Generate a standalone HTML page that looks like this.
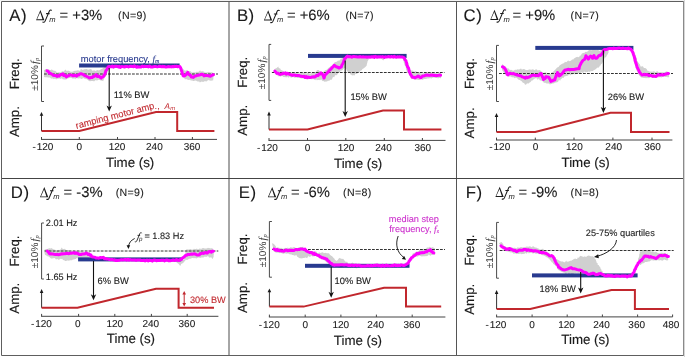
<!DOCTYPE html>
<html><head><meta charset="utf-8"><style>
html,body{margin:0;padding:0;background:#fff;}
svg{display:block;will-change:transform;}
text{text-rendering:geometricPrecision;font-family:"Liberation Sans", sans-serif;}
</style></head><body>
<svg width="685" height="357" viewBox="0 0 685 357">
<rect width="685" height="357" fill="#fff"/>

<line x1="0" y1="0.5" x2="685" y2="0.5" stroke="#f3f3f3" stroke-width="1"/>
<line x1="684.5" y1="0" x2="684.5" y2="357" stroke="#d6d6d6" stroke-width="1"/>
<path d="M683.5,1.5 H1.5 V355.5 H683.5" fill="none" stroke="#5e5e5e" stroke-width="1"/>
<line x1="683.5" y1="1" x2="683.5" y2="356" stroke="#8a8a8a" stroke-width="1"/>
<line x1="229" y1="2" x2="229" y2="355" stroke="#4c4c4c" stroke-width="1"/>
<line x1="456.5" y1="2" x2="456.5" y2="355" stroke="#555" stroke-width="1"/>
<line x1="2" y1="178.5" x2="683" y2="178.5" stroke="#444" stroke-width="1"/>

<text x="9.3" y="20.5" font-size="16.8" letter-spacing="0.5" fill="#1a1a1a" stroke="#1a1a1a" stroke-width="0.1">A)</text>
<path d="M40.40,9.90 L44.40,20.20 L36.10,20.20 Z M40.20,12.30 L37.05,19.30 L42.50,19.30 Z" fill="#1a1a1a" fill-rule="evenodd"/>
<path transform="translate(36.1,20.2)" d="M15.5,-9.5 C15.3,-10.5 14.1,-10.6 13.4,-9.5 L9.0,0.9 C8.5,2.0 7.5,2.3 6.4,1.9 M10.0,-6.6 H13.5" fill="none" stroke="#1a1a1a" stroke-width="1.05"/>
<text x="49.3" y="22.1" font-family='"Liberation Serif", serif' font-style="italic" font-size="7.6" fill="#1a1a1a">m</text>
<text x="59.5" y="19.8" font-size="14.8" fill="#1a1a1a" stroke="#1a1a1a" stroke-width="0.1">= +3%</text>
<text x="118.1" y="18.6" font-size="10.6" letter-spacing="0.35" fill="#1a1a1a" stroke="#1a1a1a" stroke-width="0.1">(N=9)</text>
<text transform="translate(19.4,73.7) rotate(-90)" text-anchor="middle" font-size="13.3" fill="#1a1a1a" stroke="#1a1a1a" stroke-width="0.15">Freq.</text>
<text transform="translate(19.4,121.6) rotate(-90)" text-anchor="middle" font-size="13.3" fill="#1a1a1a" stroke="#1a1a1a" stroke-width="0.15">Amp.</text>
<text transform="translate(37.9,90.7) rotate(-90)" font-size="10" fill="#3c3c3c">&#177;10%<tspan dx="1.2" font-family='"Liberation Serif", serif' font-style="italic" font-size="10.6">f</tspan><tspan font-family='"Liberation Serif", serif' font-style="italic" font-size="6.5" dy="1">p</tspan></text>
<polygon points="44.0,70.2 45.0,69.5 45.8,69.2 47.2,69.2 48.2,69.3 49.1,69.4 49.7,69.9 51.1,70.0 51.7,69.3 52.8,70.2 54.1,70.7 55.1,70.7 56.1,71.5 56.9,72.4 58.1,72.4 58.9,71.9 59.9,72.5 61.2,72.2 62.1,71.1 63.2,71.7 64.3,70.8 65.6,69.5 66.6,71.1 67.4,70.7 68.9,70.8 70.1,71.5 70.7,71.8 72.1,71.8 73.3,71.5 74.0,70.7 75.1,70.9 75.9,70.6 76.8,70.8 78.2,70.1 78.7,70.8 80.3,70.7 80.7,69.0 82.1,69.5 82.8,70.0 84.2,69.3 85.0,69.2 86.3,69.0 87.1,69.1 87.7,69.7 89.2,69.5 89.6,69.2 91.2,68.9 92.0,70.4 92.8,70.8 94.1,70.2 95.1,70.8 96.0,70.9 96.9,70.1 98.2,70.2 98.8,70.5 100.3,69.8 100.9,69.3 102.2,68.7 103.6,67.7 104.2,66.6 104.5,66.4 105.5,65.4 106.1,64.1 107.0,64.3 108.0,64.1 109.1,64.0 109.0,65.3 109.0,66.1 108.4,66.8 108.3,68.4 108.1,69.2 108.3,68.8 107.5,71.1 107.4,72.1 106.9,73.3 106.7,73.8 106.8,75.2 105.9,76.0 105.4,76.9 104.3,77.6 104.4,78.2 103.6,80.0 103.2,81.2 101.7,80.5 100.9,81.1 100.2,79.8 99.2,80.1 98.1,79.8 97.0,80.8 96.0,80.1 95.1,80.4 94.0,81.4 93.2,81.0 92.5,81.0 91.2,81.1 90.0,81.3 89.0,81.0 87.7,79.8 87.1,79.6 85.8,78.8 85.2,79.3 84.3,78.4 83.0,78.1 82.1,79.1 80.8,78.9 80.2,77.9 78.6,78.7 78.0,77.9 77.1,78.5 76.3,77.9 75.2,79.2 74.3,78.3 72.9,78.8 72.0,78.3 71.3,78.0 69.6,77.8 68.7,78.6 68.1,78.1 67.0,79.0 66.0,79.4 65.0,79.5 64.3,79.6 62.9,79.2 61.7,78.2 60.6,79.1 59.8,78.5 59.0,78.6 57.9,78.8 57.3,78.8 56.1,79.4 55.0,78.4 53.9,79.3 52.7,78.3 52.2,78.8 51.0,78.6 50.0,77.5 48.7,77.5 48.2,77.4 46.8,77.2 45.7,77.3 44.8,77.3 44.0,77.0" fill="#d0d0d0"/>
<polygon points="180.0,66.2 180.8,66.7 181.4,67.5 182.6,68.6 183.4,69.3 184.1,70.1 184.7,70.6 186.1,70.7 186.7,70.0 187.8,70.8 189.1,71.2 190.1,71.1 191.1,71.8 191.9,72.6 193.1,72.6 193.9,72.0 194.9,72.5 196.1,72.3 196.9,71.5 197.9,72.1 198.9,71.4 200.1,70.3 201.0,71.8 201.6,71.3 203.0,71.2 204.1,71.8 204.7,72.4 206.1,72.6 207.3,72.4 208.0,71.8 209.1,72.2 209.9,72.1 210.8,72.5 212.2,72.0 212.7,73.1 214.3,74.3 213.5,73.9 213.7,75.7 213.3,77.4 213.5,78.1 213.2,79.2 213.3,80.3 212.1,80.4 210.7,80.8 210.2,80.6 208.6,80.2 208.2,79.8 207.0,81.2 205.8,81.6 205.1,80.9 204.1,81.5 203.0,81.9 201.9,81.4 201.2,81.8 199.8,82.4 199.3,81.6 197.8,81.5 197.0,81.3 196.3,80.7 195.2,80.4 193.9,81.1 193.2,81.0 192.1,80.5 191.0,80.5 190.0,80.1 189.1,79.8 188.1,79.9 187.4,79.5 185.9,79.0 185.0,79.4 184.3,78.3 184.0,76.2 182.8,76.6 182.4,75.8 181.6,75.1 181.0,74.0" fill="#d0d0d0"/>
<path d="M44.0,46.0 H41.5 V101.5 H44.0" fill="none" stroke="#4a4a4a" stroke-width="1"/>
<line x1="44.00" y1="74.0" x2="218" y2="74.0" stroke="#333" stroke-width="1" stroke-dasharray="2.8,1.2"/>
<rect x="79.1" y="63.5" width="100.50" height="4" fill="#283a8f"/>
<polyline points="47.0,70.8 47.9,71.1 48.5,71.9 49.3,73.0 50.2,73.2 51.1,73.9 52.1,74.3 53.3,75.3 54.2,75.5 55.7,75.4 56.9,76.5 57.9,75.7 59.2,76.0 60.3,74.6 61.5,74.6 62.9,73.8 63.6,75.5 64.7,75.1 65.7,76.1 66.5,76.9 67.8,75.8 68.7,75.8 69.5,74.9 70.8,74.9 71.8,75.1 72.7,75.7 73.8,75.8 74.7,75.1 75.9,75.7 76.7,76.1 77.8,74.9 78.6,75.1 79.5,74.3 80.3,73.8 81.5,73.8 82.8,74.3 83.6,74.7 85.0,75.8 85.8,75.9 86.9,76.6 87.8,76.9 89.0,77.8 89.8,78.0 90.7,77.4 92.2,77.5 93.1,76.3 94.2,76.4 95.2,75.5 96.1,74.7 97.2,76.4 98.2,76.5 99.3,76.3 100.2,77.3 101.2,78.1 101.8,77.2 102.7,76.9 103.6,76.4 104.3,75.0 104.7,74.5 105.1,73.2 105.5,72.4 105.9,70.7 106.4,70.1 106.9,69.5 107.6,68.0 107.9,67.1 108.3,66.8 109.3,66.5 110.4,66.7 111.4,66.8 112.4,66.1 113.5,67.1 114.4,66.3 115.4,66.3 116.3,66.2 117.6,66.4 118.5,67.0 119.4,66.3 120.2,67.4 121.6,66.5 122.3,66.6 123.5,66.7 124.4,67.0 125.6,66.5 126.4,66.5 127.5,66.5 128.5,67.0 129.5,66.5 130.5,66.2 131.4,66.3 132.7,66.5 133.7,66.7 134.3,65.9 135.6,66.5 136.7,67.2 137.5,66.6 138.5,67.1 139.6,67.0 140.5,67.0 141.3,66.9 142.2,66.1 143.5,66.7 144.3,66.3 145.6,66.5 146.6,66.5 147.5,66.6 148.4,66.9 149.5,66.0 150.6,66.9 151.7,66.9 152.8,66.9 153.4,66.7 154.5,66.5 155.7,66.4 156.3,66.6 157.3,66.9 158.6,66.6 159.4,66.2 160.5,66.5 161.6,66.8 162.7,66.3 163.5,66.8 164.5,66.4 165.5,67.1 166.6,66.9 167.6,66.8 168.6,66.5 169.5,66.8 170.5,66.7 171.5,66.9 172.7,66.4 173.5,66.8 174.5,66.3 175.8,66.4 176.4,66.3 177.7,66.7 178.5,66.5 179.8,66.4 180.8,68.2 181.0,69.2 181.4,70.2 181.7,71.2 181.9,71.4 182.2,73.4 182.7,74.1 183.0,75.4 183.7,76.1 184.6,75.9 185.7,74.9 186.6,74.3 187.0,73.3 187.8,72.4 188.5,73.6 189.1,74.5 189.9,75.2 190.7,75.4 191.3,77.1 192.5,77.0 193.3,77.4 194.4,76.3 195.5,76.1 196.5,75.5 198.1,75.2 199.0,75.0 199.9,74.9 201.2,74.3 202.3,74.3 203.2,74.7 204.0,75.9 205.4,75.5 206.1,75.5 207.2,75.6 208.3,75.7 209.4,76.1 210.3,76.3 211.2,75.7 212.4,75.0 213.4,74.8" fill="none" stroke="#ff00ff" stroke-width="3" stroke-linejoin="round" stroke-linecap="round"/>
<line x1="41.5" y1="131" x2="41.5" y2="113.9" stroke="#333" stroke-width="1"/>
<path d="M39.7,115.80000000000001 L41.5,111.9 L43.3,115.80000000000001 Z" fill="#1a1a1a"/>
<polyline points="41.5,131.0 79.3,131.0 156.0,112.0 177.2,112.0 177.2,131.0 214.4,131.0" fill="none" stroke="#c1272d" stroke-width="2" stroke-linejoin="miter"/>
<line x1="41.0" y1="139.4" x2="217" y2="139.4" stroke="#444" stroke-width="1"/>
<line x1="41.5" y1="139.4" x2="41.5" y2="137.0" stroke="#444" stroke-width="1"/>
<text x="32.5" y="150.1" font-size="10" fill="#1a1a1a" stroke="#1a1a1a" stroke-width="0.1">-<tspan dx="0.9">120</tspan></text>
<line x1="79.3" y1="139.4" x2="79.3" y2="137.0" stroke="#444" stroke-width="1"/>
<text x="79.4" y="150.1" text-anchor="middle" font-size="10" fill="#1a1a1a" stroke="#1a1a1a" stroke-width="0.1">0</text>
<line x1="117.5" y1="139.4" x2="117.5" y2="137.0" stroke="#444" stroke-width="1"/>
<text x="117.0" y="150.1" text-anchor="middle" font-size="10" fill="#1a1a1a" stroke="#1a1a1a" stroke-width="0.1">120</text>
<line x1="155.0" y1="139.4" x2="155.0" y2="137.0" stroke="#444" stroke-width="1"/>
<text x="154.4" y="150.1" text-anchor="middle" font-size="10" fill="#1a1a1a" stroke="#1a1a1a" stroke-width="0.1">240</text>
<line x1="192.4" y1="139.4" x2="192.4" y2="137.0" stroke="#444" stroke-width="1"/>
<text x="192.0" y="150.1" text-anchor="middle" font-size="10" fill="#1a1a1a" stroke="#1a1a1a" stroke-width="0.1">360</text>
<text x="106" y="166.6" font-size="13.3" fill="#1a1a1a" stroke="#1a1a1a" stroke-width="0.15">Time (s)</text>
<line x1="109.2" y1="68" x2="109.2" y2="108.5" stroke="#111" stroke-width="1.1"/>
<path d="M106.5,105.5 L109.2,111.5 L111.9,105.5 L109.2,107.2 Z" fill="#111"/>
<text x="113.7" y="97.7" font-size="9.35" fill="#1a1a1a" stroke="#1a1a1a" stroke-width="0.12">11% BW</text>
<text transform="translate(76.4,128.9) rotate(-14.6)" font-size="9.35" fill="#c1272d" stroke="#c1272d" stroke-width="0.1">ramping motor amp</text>
<text x="154.6" y="109.2" font-size="9.4" fill="#c1272d">.,</text>
<text x="164.4" y="109.2" font-family='"Liberation Serif", serif' font-style="italic" font-size="8.2" fill="#c1272d">A</text>
<text x="170.3" y="110" font-family='"Liberation Serif", serif' font-style="italic" font-size="5.8" fill="#c1272d">m</text>
<text x="80.8" y="61.8" font-size="9.3" fill="#283a8f" stroke="#283a8f" stroke-width="0.1">motor frequency, <tspan font-family='"Liberation Serif", serif' font-style="italic">f</tspan><tspan font-family='"Liberation Serif", serif' font-style="italic" font-size="6" dy="1">m</tspan></text>
<text x="236.9" y="20.8" font-size="16.8" letter-spacing="0.5" fill="#1a1a1a" stroke="#1a1a1a" stroke-width="0.1">B)</text>
<path d="M268.20,10.20 L272.20,20.50 L263.90,20.50 Z M268.00,12.60 L264.85,19.60 L270.30,19.60 Z" fill="#1a1a1a" fill-rule="evenodd"/>
<path transform="translate(263.9,20.5)" d="M15.5,-9.5 C15.3,-10.5 14.1,-10.6 13.4,-9.5 L9.0,0.9 C8.5,2.0 7.5,2.3 6.4,1.9 M10.0,-6.6 H13.5" fill="none" stroke="#1a1a1a" stroke-width="1.05"/>
<text x="277.09999999999997" y="22.400000000000002" font-family='"Liberation Serif", serif' font-style="italic" font-size="7.6" fill="#1a1a1a">m</text>
<text x="286.90000000000003" y="20.1" font-size="14.8" fill="#1a1a1a" stroke="#1a1a1a" stroke-width="0.1">= +6%</text>
<text x="345.40000000000003" y="18.6" font-size="10.6" letter-spacing="0.35" fill="#1a1a1a" stroke="#1a1a1a" stroke-width="0.1">(N=7)</text>
<text transform="translate(247,72.2) rotate(-90)" text-anchor="middle" font-size="13.3" fill="#1a1a1a" stroke="#1a1a1a" stroke-width="0.15">Freq.</text>
<text transform="translate(247,120.3) rotate(-90)" text-anchor="middle" font-size="13.3" fill="#1a1a1a" stroke="#1a1a1a" stroke-width="0.15">Amp.</text>
<text transform="translate(265.4,89.2) rotate(-90)" font-size="10" fill="#3c3c3c">&#177;10%<tspan dx="1.2" font-family='"Liberation Serif", serif' font-style="italic" font-size="10.6">f</tspan><tspan font-family='"Liberation Serif", serif' font-style="italic" font-size="6.5" dy="1">p</tspan></text>
<polygon points="274.0,70.2 274.8,69.1 275.5,68.5 276.7,68.0 277.5,67.2 278.3,66.5 278.6,67.7 279.7,68.4 280.0,68.3 280.8,69.8 282.1,70.5 283.1,70.7 284.1,71.7 284.9,72.8 286.1,72.6 286.9,71.8 287.9,72.2 289.1,72.4 289.9,71.9 290.9,72.9 291.9,72.6 293.1,71.9 294.0,73.2 294.6,72.5 296.0,72.4 297.1,72.8 297.7,73.2 299.1,73.4 300.3,73.2 301.0,72.5 302.1,72.8 302.9,72.6 303.8,73.0 305.2,72.3 305.7,73.4 307.3,73.6 307.7,72.3 309.1,73.1 309.8,73.9 311.2,73.3 312.0,73.1 313.3,72.9 314.1,72.5 314.7,72.6 316.3,71.4 316.9,70.1 318.8,69.9 320.0,71.5 320.8,72.2 322.1,71.9 323.1,71.8 324.0,71.5 324.9,70.3 326.2,70.0 326.6,69.8 327.9,68.6 328.2,68.1 329.2,67.5 330.3,66.5 330.9,65.7 331.3,65.9 332.3,65.2 332.9,64.2 333.6,63.7 334.3,62.8 335.1,62.0 336.1,61.9 337.4,61.3 337.9,60.6 339.0,60.8 339.9,60.2 341.0,58.1 341.2,58.7 342.2,58.0 342.8,57.4 343.6,56.2 344.7,55.9 344.9,55.0 346.0,55.0 346.5,54.8 348.2,54.5 349.0,55.4 350.2,55.7 350.7,54.8 351.9,55.3 353.2,53.8 354.2,54.3 355.1,54.3 356.0,55.5 357.0,55.1 358.1,55.1 359.0,55.7 360.2,54.9 361.5,54.5 362.2,54.9 363.0,55.3 364.0,55.3 364.7,54.3 366.1,54.6 366.8,54.3 368.2,55.3 368.6,55.6 368.7,56.5 369.1,58.7 368.5,59.7 368.4,59.9 367.5,61.6 367.5,61.7 367.2,63.2 367.0,63.5 366.6,65.7 366.3,65.9 365.1,67.3 364.4,67.7 363.9,68.3 362.4,69.0 361.7,70.4 361.1,70.2 360.0,71.4 359.0,72.1 358.0,72.5 357.5,73.5 356.4,73.9 355.4,73.8 354.6,75.5 353.8,75.2 353.0,75.3 351.9,75.6 351.5,74.8 350.5,74.6 349.6,72.8 348.7,73.2 347.7,71.7 347.6,71.6 346.8,70.8 346.2,69.1 345.3,68.5 345.2,67.7 344.0,68.3 343.1,69.3 342.3,70.2 341.2,70.8 340.7,70.5 340.1,71.9 338.8,72.3 338.4,73.1 337.6,74.3 336.8,74.8 336.1,75.6 335.1,75.1 334.3,77.3 333.3,77.1 332.8,77.2 331.8,79.8 330.7,79.6 330.3,79.9 329.1,80.8 327.8,80.8 327.1,81.6 326.0,81.5 324.8,81.8 324.2,81.6 322.8,80.8 322.5,81.3 321.1,79.2 320.1,80.2 319.3,80.1 318.0,80.0 316.7,80.2 316.1,79.3 315.2,80.3 313.7,79.1 313.1,79.4 311.9,78.8 311.4,79.6 309.8,78.4 309.3,79.3 308.3,79.2 306.8,78.8 305.6,78.3 305.0,78.7 303.9,78.3 303.1,78.5 302.1,78.3 300.9,78.5 300.0,77.6 298.9,77.9 298.0,77.9 297.0,77.9 296.0,77.2 295.1,78.1 294.1,77.5 293.1,77.1 291.7,77.5 290.8,77.7 289.8,76.2 288.8,78.0 287.9,76.6 286.9,77.4 286.1,77.1 285.3,77.3 284.0,77.0 283.3,77.0 282.2,75.8 281.0,76.4 279.9,76.4 279.1,76.1 278.0,76.6 277.2,75.1 276.0,75.0" fill="#d0d0d0"/>
<polygon points="380.0,57.2 380.7,57.7 381.3,58.7 382.5,59.8 383.2,60.6 383.8,59.7 384.2,59.1 385.3,58.1 386.0,57.0" fill="#d0d0d0"/>
<polygon points="404.0,56.2 404.5,56.7 405.0,57.6 405.9,58.8 406.5,59.5 406.9,60.4 407.1,61.5 408.1,62.2 407.9,62.2 408.3,63.8 408.8,65.0 409.1,65.7 409.3,67.2 409.4,68.8 409.9,69.5 409.9,69.7 410.9,70.3 412.1,70.7 412.9,70.5 413.9,71.7 414.9,71.6 416.1,71.1 417.0,72.7 417.6,72.3 419.0,72.3 420.1,73.0 420.7,73.4 422.1,73.4 423.3,73.2 424.0,72.4 425.1,72.7 425.9,72.4 426.8,72.8 428.2,72.1 428.7,73.1 430.3,73.3 430.7,71.9 432.1,72.7 432.8,73.4 434.2,73.1 435.0,73.2 436.3,73.3 437.1,73.2 437.7,73.6 439.2,73.2 439.6,72.7 441.2,72.2 441.0,74.5 440.8,75.7 441.1,75.9 441.1,77.3 441.0,78.5 439.9,77.8 439.2,78.0 437.8,78.4 437.3,77.8 435.8,77.9 435.0,77.9 434.3,77.5 433.2,77.4 431.9,78.3 431.2,78.4 430.1,78.1 429.0,78.5 428.0,78.5 427.1,78.6 426.1,79.1 425.4,79.1 423.9,79.0 423.0,79.8 421.9,79.8 421.3,78.6 419.8,80.1 419.1,80.0 417.9,80.0 417.1,79.4 416.4,79.7 414.9,79.3 414.0,79.2 412.5,78.9 412.2,78.5 411.4,78.6 410.9,77.9 409.8,76.2 409.4,75.8 409.1,73.4 408.4,73.1 407.7,72.2 407.0,72.5 406.6,71.1 406.5,70.1 406.0,69.7 405.9,67.9 405.8,66.5 405.2,65.9 404.7,65.3 404.4,64.3 403.7,62.3 403.8,61.6 403.1,60.3 403.0,60.0" fill="#d0d0d0"/>
<path d="M271.2,44.4 H269.0 V100.4 H271.2" fill="none" stroke="#4a4a4a" stroke-width="1"/>
<line x1="271.90" y1="72.5" x2="444.5" y2="72.5" stroke="#333" stroke-width="1" stroke-dasharray="2.8,1.2"/>
<rect x="308.0" y="53.9" width="98.60" height="4" fill="#283a8f"/>
<polyline points="274.8,71.1 275.9,72.2 277.0,73.4 277.8,73.2 279.1,73.8 279.8,74.5 280.9,74.1 281.9,74.1 283.0,73.3 283.9,73.4 285.4,72.8 286.2,74.1 287.5,73.3 288.8,73.9 289.8,74.5 291.0,74.7 292.3,75.4 293.6,75.0 294.6,74.9 295.7,75.6 296.9,75.5 297.9,75.6 299.1,75.4 300.5,76.3 301.4,76.3 302.6,76.6 304.1,76.3 305.1,77.5 306.3,76.5 307.3,77.8 308.4,77.1 309.8,77.5 310.9,77.5 312.1,76.9 313.3,76.8 314.5,77.1 315.6,76.5 316.6,75.3 318.0,75.5 318.8,74.4 320.0,74.0 321.0,72.8 321.7,73.7 322.6,74.4 323.1,75.5 323.7,76.8 324.0,78.1 324.3,77.5 324.6,76.2 324.9,74.9 325.7,74.5 326.5,73.7 327.2,72.8 328.1,72.2 329.0,70.9 329.5,70.3 330.5,69.5 331.0,68.8 331.8,68.2 332.7,67.0 333.3,66.6 334.2,65.3 335.6,66.3 336.5,66.9 337.7,66.9 338.6,67.9 339.6,67.9 340.2,67.4 341.4,66.8 341.7,65.6 342.1,64.7 342.6,64.0 342.9,63.5 343.4,62.2 344.0,60.5 344.4,59.5 344.7,58.6 345.5,58.3 346.4,56.9 347.4,56.1 348.5,56.7 350.1,56.6 351.2,56.9 351.8,57.2 353.0,56.6 354.0,56.6 355.2,56.8 356.2,56.8 357.1,56.9 358.1,56.9 359.0,57.1 360.1,56.5 361.0,57.0 361.9,57.0 363.2,56.8 364.2,56.9 365.2,56.9 366.3,57.0 367.1,57.3 368.1,56.9 369.2,56.9 370.1,57.3 371.1,56.7 372.2,57.1 373.2,56.6 374.2,57.5 375.2,56.3 375.9,56.6 377.0,57.2 378.4,56.8 379.1,56.9 380.2,56.7 381.4,56.9 382.5,56.6 383.3,56.9 384.3,57.4 385.3,56.8 386.3,56.9 387.2,57.0 388.2,56.5 389.3,56.8 390.3,57.1 391.2,56.6 392.3,56.8 393.4,57.2 394.3,56.3 395.4,57.1 396.4,57.3 397.4,56.7 398.5,56.9 399.4,56.8 400.5,57.0 401.2,57.1 402.7,56.9 403.3,57.6 404.1,57.7 405.0,59.7 405.6,60.3 405.9,60.7 406.3,62.0 406.8,63.4 406.7,64.2 407.1,65.5 407.4,66.0 407.6,67.0 408.4,67.8 408.7,68.8 408.9,69.6 409.1,70.7 409.5,72.0 409.9,72.9 410.4,74.2 411.1,75.2 411.6,75.8 412.2,77.3 413.5,77.2 415.1,78.0 416.0,77.2 416.9,76.9 417.9,76.0 418.9,76.4 419.9,77.3 421.1,77.8 421.7,76.8 422.5,76.1 423.6,75.9 424.7,75.7 425.9,75.1 427.0,75.3 428.1,75.1 429.4,75.4 430.4,75.1 431.6,75.3 432.4,74.9 433.5,75.4 435.0,75.3 436.2,75.7 437.3,75.4 438.7,75.3 439.5,75.1 440.6,75.3" fill="none" stroke="#ff00ff" stroke-width="3" stroke-linejoin="round" stroke-linecap="round"/>
<line x1="269.0" y1="129.5" x2="269.0" y2="113.5" stroke="#333" stroke-width="1"/>
<path d="M267.2,115.4 L269.0,111.5 L270.8,115.4 Z" fill="#1a1a1a"/>
<polyline points="269.0,129.5 307.5,129.5 383.0,110.6 404.0,110.6 404.0,129.5 441.4,129.5" fill="none" stroke="#c1272d" stroke-width="2" stroke-linejoin="miter"/>
<line x1="268.5" y1="140.4" x2="445.5" y2="140.4" stroke="#444" stroke-width="1"/>
<line x1="269.0" y1="140.4" x2="269.0" y2="138.0" stroke="#444" stroke-width="1"/>
<text x="257.0" y="150.8" font-size="10" fill="#1a1a1a" stroke="#1a1a1a" stroke-width="0.1">-<tspan dx="0.9">120</tspan></text>
<line x1="307.5" y1="140.4" x2="307.5" y2="138.0" stroke="#444" stroke-width="1"/>
<text x="307.6" y="150.8" text-anchor="middle" font-size="10" fill="#1a1a1a" stroke="#1a1a1a" stroke-width="0.1">0</text>
<line x1="345.8" y1="140.4" x2="345.8" y2="138.0" stroke="#444" stroke-width="1"/>
<text x="346.1" y="150.8" text-anchor="middle" font-size="10" fill="#1a1a1a" stroke="#1a1a1a" stroke-width="0.1">120</text>
<line x1="384.3" y1="140.4" x2="384.3" y2="138.0" stroke="#444" stroke-width="1"/>
<text x="383.6" y="150.8" text-anchor="middle" font-size="10" fill="#1a1a1a" stroke="#1a1a1a" stroke-width="0.1">240</text>
<line x1="422.4" y1="140.4" x2="422.4" y2="138.0" stroke="#444" stroke-width="1"/>
<text x="422.8" y="150.8" text-anchor="middle" font-size="10" fill="#1a1a1a" stroke="#1a1a1a" stroke-width="0.1">360</text>
<text x="334" y="167.6" font-size="13.3" fill="#1a1a1a" stroke="#1a1a1a" stroke-width="0.15">Time (s)</text>
<line x1="345.2" y1="60.5" x2="345.2" y2="114" stroke="#111" stroke-width="1.1"/>
<path d="M342.5,111 L345.2,117 L347.9,111 L345.2,112.7 Z" fill="#111"/>
<text x="350.4" y="99.7" font-size="9.35" fill="#1a1a1a" stroke="#1a1a1a" stroke-width="0.12">15% BW</text>
<text x="463.6" y="20.900000000000002" font-size="16.8" letter-spacing="0.5" fill="#1a1a1a" stroke="#1a1a1a" stroke-width="0.1">C)</text>
<path d="M494.50,9.70 L498.50,20.00 L490.20,20.00 Z M494.30,12.10 L491.15,19.10 L496.60,19.10 Z" fill="#1a1a1a" fill-rule="evenodd"/>
<path transform="translate(490.2,20.0)" d="M15.5,-9.5 C15.3,-10.5 14.1,-10.6 13.4,-9.5 L9.0,0.9 C8.5,2.0 7.5,2.3 6.4,1.9 M10.0,-6.6 H13.5" fill="none" stroke="#1a1a1a" stroke-width="1.05"/>
<text x="503.4" y="21.900000000000002" font-family='"Liberation Serif", serif' font-style="italic" font-size="7.6" fill="#1a1a1a">m</text>
<text x="512.5" y="19.6" font-size="14.8" fill="#1a1a1a" stroke="#1a1a1a" stroke-width="0.1">= +9%</text>
<text x="570.5" y="18.6" font-size="10.6" letter-spacing="0.35" fill="#1a1a1a" stroke="#1a1a1a" stroke-width="0.1">(N=7)</text>
<text transform="translate(474.2,73.5) rotate(-90)" text-anchor="middle" font-size="13.3" fill="#1a1a1a" stroke="#1a1a1a" stroke-width="0.15">Freq.</text>
<text transform="translate(474.2,122.9) rotate(-90)" text-anchor="middle" font-size="13.3" fill="#1a1a1a" stroke="#1a1a1a" stroke-width="0.15">Amp.</text>
<text transform="translate(492.9,90.2) rotate(-90)" font-size="10" fill="#3c3c3c">&#177;10%<tspan dx="1.2" font-family='"Liberation Serif", serif' font-style="italic" font-size="10.6">f</tspan><tspan font-family='"Liberation Serif", serif' font-style="italic" font-size="6.5" dy="1">p</tspan></text>
<polygon points="502.0,64.2 502.8,64.5 503.4,65.1 504.6,66.0 505.4,66.5 506.1,67.1 506.5,68.0 507.7,68.4 508.1,68.0 509.0,69.2 510.1,70.0 511.1,69.7 512.1,70.2 512.9,70.8 514.1,70.5 514.9,69.7 515.9,69.8 517.1,69.7 517.9,69.0 518.9,69.7 519.9,69.1 521.1,68.4 522.0,69.8 522.6,69.2 524.0,69.0 525.1,69.5 525.7,70.0 527.1,70.1 528.3,70.0 529.0,69.3 530.1,69.7 530.9,69.4 531.8,69.8 533.2,69.1 533.7,70.1 535.3,70.3 535.7,68.9 537.1,69.7 537.8,70.4 539.2,70.1 540.0,70.2 541.3,71.3 542.1,72.2 542.7,72.8 544.2,72.7 544.6,72.5 546.2,72.2 547.0,73.7 547.8,74.2 549.1,73.7 550.1,74.3 550.9,73.8 551.5,72.5 552.7,72.0 553.2,71.8 554.4,70.5 554.8,69.9 555.7,69.2 556.7,68.1 557.4,67.3 557.7,67.4 558.8,66.8 559.3,65.8 560.0,65.3 561.0,64.5 562.1,63.8 563.1,63.5 564.4,62.7 564.9,61.8 566.0,62.2 566.9,61.8 568.3,60.2 568.8,61.3 570.1,61.1 570.9,60.7 572.1,59.6 573.4,59.4 573.9,58.6 575.0,58.0 575.5,57.4 577.2,56.7 578.0,57.2 579.2,57.1 579.7,55.8 580.8,55.6 581.9,53.5 582.7,53.3 583.5,52.7 584.2,53.2 585.0,52.1 586.1,51.7 587.0,51.9 588.2,50.7 589.5,49.9 590.2,49.9 591.0,50.3 592.0,50.3 592.7,49.3 594.1,49.6 594.8,49.3 596.2,50.3 597.3,49.6 598.0,49.5 599.1,50.7 599.8,50.7 601.2,49.7 601.6,50.1 603.0,49.0 604.1,49.2 605.3,48.3 606.2,49.2 607.3,48.2 607.9,48.5 608.3,49.1 608.8,49.9 608.3,50.8 608.7,52.4 608.5,52.5 607.8,54.0 607.2,55.0 606.6,55.7 606.3,56.7 605.4,57.4 604.7,57.5 604.1,59.5 603.8,60.0 603.4,60.8 602.8,61.8 602.6,62.6 601.8,63.9 601.1,63.7 600.5,65.6 599.7,65.7 599.3,67.0 598.3,67.7 597.5,67.5 596.4,68.4 596.0,69.1 594.8,69.7 593.7,70.3 592.8,71.0 591.6,71.3 590.9,70.7 590.1,71.9 588.6,71.6 588.1,71.8 587.1,72.3 586.1,72.1 585.2,72.3 584.1,71.3 583.2,73.0 581.9,72.4 581.3,72.0 580.1,74.1 578.8,73.5 578.3,73.3 577.1,74.0 575.8,73.8 575.1,74.4 574.0,74.1 572.8,74.2 572.2,74.6 570.8,74.4 570.5,75.5 569.1,74.0 568.1,75.6 567.3,75.8 566.0,76.0 564.7,76.5 564.2,76.4 563.6,78.1 562.2,77.7 561.7,78.7 560.8,78.9 560.4,80.5 558.8,80.0 558.3,81.6 557.3,82.2 555.8,82.5 554.6,82.7 554.0,83.4 552.9,83.3 552.1,83.8 551.1,83.9 549.9,84.4 549.0,83.4 547.9,83.6 547.0,83.5 546.0,83.3 545.0,82.4 544.1,82.9 543.1,81.7 542.1,80.8 540.7,80.6 539.8,80.3 538.8,78.4 537.8,79.9 536.9,78.2 535.9,78.6 535.1,78.1 534.4,79.0 533.3,79.6 532.8,80.4 531.9,80.2 530.8,81.7 529.9,82.5 529.1,82.8 528.0,83.9 527.2,83.1 526.0,84.8 524.9,84.4 524.3,83.3 523.1,82.8 522.6,82.5 521.8,81.3 521.0,80.9 520.0,80.0 519.0,79.9 517.8,78.9 517.0,78.1 515.9,77.5 514.9,78.3 514.1,77.8 513.0,77.0 512.3,77.6 511.2,76.8 510.0,76.2 509.1,76.8 507.7,75.8 507.1,74.4 505.7,74.1 504.9,73.4 504.4,73.3 503.9,72.7 503.5,72.1 502.4,70.6 502.0,70.0" fill="#d0d0d0"/>
<polygon points="631.0,48.2 631.6,48.7 632.0,49.5 633.0,50.6 633.6,51.3 634.1,52.1 634.1,53.4 634.9,54.2 634.9,54.2 635.4,55.8 636.1,57.0 636.5,57.7 636.9,59.2 637.1,60.8 637.7,61.5 637.9,61.7 638.6,63.0 639.5,64.1 639.9,64.6 640.6,66.5 641.6,66.6 642.9,66.3 643.9,68.1 644.6,67.9 645.8,68.3 646.8,69.3 647.2,70.4 648.5,71.1 649.4,71.5 650.0,71.4 651.1,71.7 651.9,71.4 652.8,71.8 654.2,71.1 654.7,72.1 656.3,72.3 656.7,70.9 658.1,71.7 658.8,72.4 660.2,72.1 661.0,72.2 662.3,72.3 663.1,72.2 663.7,72.6 665.2,72.2 665.6,71.7 667.2,71.2 668.0,72.5 668.8,72.7 669.1,72.9 669.1,74.3 669.0,75.5 668.9,75.8 669.2,77.0 667.8,77.4 667.3,76.8 665.8,76.9 665.0,76.9 664.3,76.5 663.2,76.4 661.9,77.3 661.2,77.4 660.1,77.1 659.0,77.4 658.0,77.3 657.1,77.3 656.1,77.7 655.4,77.6 653.9,77.4 653.0,78.1 651.9,78.0 651.3,76.7 649.8,78.1 649.1,78.1 647.9,78.3 647.1,77.8 646.4,78.2 644.9,78.0 644.0,78.0 642.5,77.8 642.2,77.5 641.2,77.6 640.6,77.1 639.3,75.4 638.7,75.1 638.2,72.8 637.9,72.3 637.5,71.3 637.0,71.5 636.6,70.1 636.5,69.1 636.0,68.7 635.9,66.9 635.8,65.5 635.2,64.9 634.7,64.3 634.4,63.3 634.0,62.0" fill="#d0d0d0"/>
<path d="M498.9,45.4 H496.5 V101.5 H498.9" fill="none" stroke="#4a4a4a" stroke-width="1"/>
<line x1="499.00" y1="73.5" x2="673" y2="73.5" stroke="#333" stroke-width="1" stroke-dasharray="2.8,1.2"/>
<rect x="535.3" y="45.9" width="98.10" height="4" fill="#283a8f"/>
<polyline points="502.5,66.9 503.3,67.2 504.2,67.8 504.8,68.6 505.8,70.3 506.2,71.2 506.5,72.1 507.0,73.2 507.0,74.3 507.8,74.9 508.9,73.8 509.9,73.3 511.1,73.5 512.5,73.7 513.5,73.6 514.8,74.2 515.9,74.5 516.8,75.0 518.4,75.3 519.3,75.7 520.3,75.7 521.3,76.2 522.3,76.9 523.6,77.3 524.2,77.5 525.3,78.2 526.3,77.0 527.5,77.7 528.8,77.2 529.9,76.6 531.0,76.0 531.7,75.4 533.0,75.3 534.5,75.2 535.5,75.7 536.6,75.3 537.7,75.6 538.4,75.7 539.4,74.5 540.2,73.6 541.2,73.4 541.5,73.8 541.6,75.2 542.3,76.4 542.6,77.2 543.1,78.1 543.5,79.5 544.2,78.7 545.1,78.6 545.8,76.7 546.2,77.3 547.5,76.9 548.9,77.4 549.7,79.0 550.2,79.6 550.9,81.4 552.3,80.9 553.5,80.1 554.8,80.0 555.1,78.6 555.5,77.3 556.1,76.4 556.1,75.7 556.8,74.2 557.3,73.5 557.5,72.5 558.4,73.9 558.8,75.0 559.2,75.9 560.3,75.4 561.1,74.3 561.9,74.0 562.5,73.1 563.6,71.7 564.1,70.8 565.2,69.9 566.4,69.9 567.6,69.5 568.6,69.3 569.8,69.9 571.1,69.5 572.3,69.5 573.6,69.6 574.9,69.3 576.1,69.0 577.5,68.7 578.7,68.7 579.1,68.7 579.4,66.8 579.8,65.7 580.3,64.7 580.9,63.6 581.1,62.8 581.7,62.2 582.4,61.1 583.4,60.0 584.5,59.5 585.1,58.0 585.6,56.7 585.9,55.7 586.5,56.4 586.9,57.6 587.5,58.0 588.3,59.1 588.8,58.7 589.1,57.9 589.7,56.8 590.5,56.1 591.1,56.3 591.8,56.7 592.6,58.3 593.2,57.0 594.0,55.5 594.7,57.6 595.4,58.2 596.2,58.2 597.0,58.0 597.8,56.8 598.3,56.2 599.3,55.3 600.5,55.4 601.4,54.5 602.0,53.5 602.7,53.5 603.2,51.6 603.6,50.3 604.4,49.4 605.4,49.4 606.5,49.4 607.3,49.2 608.7,48.6 609.6,48.4 610.6,48.5 611.6,48.4 612.8,48.7 613.8,48.1 614.9,48.6 615.9,48.5 616.7,48.6 617.8,48.2 618.7,48.0 619.8,48.1 620.9,48.4 621.9,48.3 623.1,48.1 624.2,48.4 625.2,48.6 626.0,48.6 627.3,48.7 628.5,47.9 629.2,48.7 630.5,49.0 631.0,49.4 631.5,50.2 632.0,50.8 632.6,52.0 633.1,53.0 633.5,54.5 633.8,55.1 634.1,56.0 634.3,56.8 634.7,58.4 635.0,59.1 635.1,60.7 635.5,61.8 635.9,63.0 636.0,63.2 636.5,65.0 636.8,66.0 637.1,67.3 637.5,67.7 638.0,69.1 638.4,69.7 638.9,70.5 639.4,72.4 640.0,72.7 640.7,73.6 641.3,74.1 641.9,74.9 643.4,74.7 644.5,74.3 645.1,74.9 646.6,74.5 647.6,74.8 648.6,75.5 649.8,75.4 651.0,75.5 652.5,76.3 653.3,76.0 654.6,76.3 656.1,76.4 656.9,75.6 658.1,74.6 659.3,75.0 660.6,74.9 661.6,74.6 662.9,75.1 663.6,74.8 664.9,74.4 666.1,74.0 667.3,73.6 668.4,73.4" fill="none" stroke="#ff00ff" stroke-width="3" stroke-linejoin="round" stroke-linecap="round"/>
<line x1="496.5" y1="131.9" x2="496.5" y2="115" stroke="#333" stroke-width="1"/>
<path d="M494.7,116.9 L496.5,113 L498.3,116.9 Z" fill="#1a1a1a"/>
<polyline points="496.5,131.9 535.2,131.9 610.5,112.8 631.0,112.8 631.0,131.9 669.5,131.9" fill="none" stroke="#c1272d" stroke-width="2" stroke-linejoin="miter"/>
<line x1="496.0" y1="140.0" x2="672.4" y2="140.0" stroke="#444" stroke-width="1"/>
<line x1="496.5" y1="140.0" x2="496.5" y2="137.6" stroke="#444" stroke-width="1"/>
<text x="489.3" y="149.9" font-size="10" fill="#1a1a1a" stroke="#1a1a1a" stroke-width="0.1">-<tspan dx="0.9">120</tspan></text>
<line x1="535.3" y1="140.0" x2="535.3" y2="137.6" stroke="#444" stroke-width="1"/>
<text x="535.5" y="149.9" text-anchor="middle" font-size="10" fill="#1a1a1a" stroke="#1a1a1a" stroke-width="0.1">0</text>
<line x1="574.0" y1="140.0" x2="574.0" y2="137.6" stroke="#444" stroke-width="1"/>
<text x="574.4" y="149.9" text-anchor="middle" font-size="10" fill="#1a1a1a" stroke="#1a1a1a" stroke-width="0.1">120</text>
<line x1="612.9" y1="140.0" x2="612.9" y2="137.6" stroke="#444" stroke-width="1"/>
<text x="613.7" y="149.9" text-anchor="middle" font-size="10" fill="#1a1a1a" stroke="#1a1a1a" stroke-width="0.1">240</text>
<line x1="652.0" y1="140.0" x2="652.0" y2="137.6" stroke="#444" stroke-width="1"/>
<text x="652.5" y="149.9" text-anchor="middle" font-size="10" fill="#1a1a1a" stroke="#1a1a1a" stroke-width="0.1">360</text>
<text x="561.5" y="166.6" font-size="13.3" fill="#1a1a1a" stroke="#1a1a1a" stroke-width="0.15">Time (s)</text>
<line x1="603.4" y1="50.5" x2="603.4" y2="109.9" stroke="#111" stroke-width="1.1"/>
<path d="M600.6999999999999,106.9 L603.4,112.9 L606.1,106.9 L603.4,108.60000000000001 Z" fill="#111"/>
<text x="607.8" y="100.1" font-size="9.35" fill="#1a1a1a" stroke="#1a1a1a" stroke-width="0.12">26% BW</text>
<text x="10.8" y="197.6" font-size="16.8" letter-spacing="0.5" fill="#1a1a1a" stroke="#1a1a1a" stroke-width="0.1">D)</text>
<path d="M44.30,187.00 L48.30,197.30 L40.00,197.30 Z M44.10,189.40 L40.95,196.40 L46.40,196.40 Z" fill="#1a1a1a" fill-rule="evenodd"/>
<path transform="translate(40,197.29999999999998)" d="M15.5,-9.5 C15.3,-10.5 14.1,-10.6 13.4,-9.5 L9.0,0.9 C8.5,2.0 7.5,2.3 6.4,1.9 M10.0,-6.6 H13.5" fill="none" stroke="#1a1a1a" stroke-width="1.05"/>
<text x="53.2" y="199.2" font-family='"Liberation Serif", serif' font-style="italic" font-size="7.6" fill="#1a1a1a">m</text>
<text x="63.599999999999994" y="196.9" font-size="14.8" fill="#1a1a1a" stroke="#1a1a1a" stroke-width="0.1">= -3%</text>
<text x="115.7" y="196" font-size="10.6" letter-spacing="0.35" fill="#1a1a1a" stroke="#1a1a1a" stroke-width="0.1">(N=9)</text>
<text transform="translate(19.3,251) rotate(-90)" text-anchor="middle" font-size="13.3" fill="#1a1a1a" stroke="#1a1a1a" stroke-width="0.15">Freq.</text>
<text transform="translate(19.3,298.2) rotate(-90)" text-anchor="middle" font-size="13.3" fill="#1a1a1a" stroke="#1a1a1a" stroke-width="0.15">Amp.</text>
<text transform="translate(38.0,268.2) rotate(-90)" font-size="10" fill="#3c3c3c">&#177;10%<tspan dx="1.2" font-family='"Liberation Serif", serif' font-style="italic" font-size="10.6">f</tspan><tspan font-family='"Liberation Serif", serif' font-style="italic" font-size="6.5" dy="1">p</tspan></text>
<polygon points="44.0,250.2 44.9,249.5 45.8,249.2 47.2,249.1 48.1,248.7 49.0,248.3 49.6,248.3 51.0,248.5 51.6,248.0 52.8,248.9 54.0,249.6 55.1,249.7 56.1,250.2 56.9,250.8 58.1,250.5 58.9,249.7 59.9,250.0 61.0,249.1 61.6,247.6 62.8,249.0 63.9,249.1 65.1,248.7 66.0,250.3 66.6,249.9 68.0,250.0 69.1,250.6 69.7,251.4 71.1,251.5 72.3,251.4 73.0,250.7 74.1,251.1 74.9,250.9 75.8,251.4 77.2,250.8 77.7,251.9 79.3,252.2 79.7,250.9 81.1,251.7 81.8,252.4 83.2,252.1 84.0,252.2 85.3,252.3 86.1,252.2 86.7,252.6 88.2,252.2 88.4,252.3 89.8,252.4 90.4,254.3 91.0,255.1 92.1,254.9 92.8,256.0 93.5,257.0 94.1,257.1 95.2,258.0 93.8,258.4 93.3,257.8 91.8,257.9 91.0,257.9 90.3,257.5 89.2,257.4 87.9,258.3 87.2,258.4 86.1,258.1 85.0,258.3 84.0,258.2 83.1,258.2 82.1,258.6 81.4,258.5 79.9,258.3 79.0,259.0 77.9,258.9 77.3,257.6 75.8,259.0 75.1,259.1 73.8,259.6 72.8,259.4 72.1,260.2 70.4,260.3 69.4,260.6 67.8,260.8 67.4,260.3 66.2,261.1 65.3,261.1 63.8,260.1 63.1,260.3 62.3,258.7 61.2,259.0 60.1,258.8 59.0,259.9 58.0,259.3 57.1,259.1 56.0,259.6 55.2,258.6 54.5,258.1 53.2,258.3 52.0,258.6 51.0,258.4 49.7,257.3 49.1,257.0 47.8,256.1 47.2,256.5 46.3,255.2 45.0,255.0" fill="#d0d0d0"/>
<polygon points="175.0,261.2 175.8,261.5 176.4,262.2 177.6,263.2 178.4,263.7 179.1,264.4 179.5,265.3 180.7,265.8 181.1,263.9 182.1,263.6 183.2,262.9 184.1,261.7 184.7,261.2 185.2,260.8 186.0,259.0" fill="#d0d0d0"/>
<polygon points="184.0,257.2 184.2,255.9 184.4,254.9 185.1,254.2 185.3,253.1 185.5,252.1 185.4,251.4 186.1,250.2 186.7,249.0 187.8,249.5 189.1,249.5 190.1,249.0 191.1,249.3 191.9,249.8 193.1,249.5 193.9,248.7 194.9,249.0 196.1,249.1 196.9,248.6 197.9,249.5 198.9,249.1 200.1,248.3 201.0,249.4 201.6,248.5 203.0,248.1 204.1,248.3 204.7,248.5 206.1,248.4 207.3,248.3 208.0,247.7 209.1,248.2 209.9,248.0 210.8,248.5 212.2,247.9 212.7,249.1 213.6,250.3 213.3,249.9 214.1,251.7 213.7,253.4 213.9,254.1 213.6,255.2 213.7,256.3 213.4,257.2 212.9,258.6 213.2,259.2 211.6,258.1 211.2,257.0 210.0,257.7 208.8,257.3 208.1,255.9 207.1,256.5 206.0,257.0 204.9,256.6 204.2,257.0 202.8,257.7 202.3,257.3 200.8,257.7 200.0,257.9 199.3,257.5 198.2,257.4 196.9,258.3 196.2,258.4 195.1,258.1 194.0,258.3 193.0,258.1 192.1,258.0 191.1,258.6 190.4,258.8 188.9,258.8 188.0,259.7 186.9,259.8 186.0,260.0" fill="#d0d0d0"/>
<path d="M43.9,223.0 H41.6 V279.0 H43.9" fill="none" stroke="#4a4a4a" stroke-width="1"/>
<line x1="44.70" y1="251.0" x2="218.3" y2="251.0" stroke="#333" stroke-width="1" stroke-dasharray="2.8,1.2"/>
<rect x="78.1" y="257.4" width="103.10" height="4" fill="#283a8f"/>
<polyline points="47.3,251.1 48.2,251.8 49.2,253.4 49.8,253.9 51.0,253.7 52.1,254.0 52.8,254.0 54.1,254.3 55.1,254.4 56.2,254.6 57.2,254.3 58.5,254.7 59.4,254.5 60.4,254.2 62.0,253.7 62.7,253.9 63.8,253.8 65.0,253.7 66.2,253.6 67.2,253.2 68.4,253.7 69.4,253.5 70.5,253.1 71.6,253.2 72.8,253.1 73.9,252.7 75.1,253.4 75.9,252.8 77.1,253.4 77.9,253.5 79.2,254.5 80.2,254.5 81.4,254.4 82.4,253.9 83.8,254.0 85.0,253.8 85.9,253.0 87.1,253.4 88.1,254.5 89.2,254.0 90.2,255.3 91.0,255.1 91.7,256.7 92.5,256.9 93.6,257.1 94.9,257.3 96.0,257.9 97.4,257.9 98.3,258.2 99.2,258.1 100.2,257.5 101.1,257.7 102.5,257.6 103.3,257.3 104.5,258.8 105.7,258.6 106.6,259.1 107.8,259.1 109.0,259.4 109.7,259.5 110.9,259.7 112.2,259.4 113.3,260.1 114.4,259.8 115.5,260.5 116.4,260.2 117.5,260.5 118.7,260.3 119.8,260.2 120.8,259.8 121.7,259.8 122.6,260.0 123.9,259.8 125.1,259.6 125.8,259.6 126.7,260.2 127.8,259.2 128.9,260.2 130.1,259.6 131.1,259.9 132.0,260.0 132.9,259.9 134.2,260.1 135.0,259.9 136.1,260.4 137.0,260.1 138.0,260.0 139.0,259.9 140.2,260.0 140.9,260.5 141.9,260.4 142.9,260.4 144.3,260.3 145.0,260.9 146.0,260.4 147.0,260.1 148.0,260.9 149.1,260.2 150.1,260.5 151.4,260.5 152.3,261.1 153.3,260.3 154.3,259.9 155.3,260.2 156.4,260.8 157.2,260.4 158.4,260.6 159.5,260.6 160.5,260.5 161.4,260.3 162.3,260.3 163.5,260.2 164.4,260.9 165.4,260.4 166.2,260.0 167.3,259.9 168.5,260.7 169.6,260.6 170.1,260.8 171.5,260.4 172.3,260.3 173.2,259.9 174.7,260.5 175.7,260.1 176.5,259.5 177.6,260.1 178.7,260.5 179.5,259.8 180.7,259.7 181.5,259.4 182.0,258.2 183.2,257.5 184.2,257.1 184.7,256.2 185.7,255.3 186.6,255.3 187.5,254.5 188.5,254.4 189.4,254.6 190.6,254.2 191.3,254.1 192.4,254.2 193.4,253.9 194.7,253.7 195.4,254.2 196.4,254.7 197.3,255.1 198.5,255.1 199.3,254.9 200.3,253.4 201.2,253.6 202.4,253.1 203.5,253.4 205.0,252.4 206.0,252.9 207.4,252.9 208.1,252.1 209.0,251.6 210.1,251.7 211.3,252.2 212.1,251.3 213.4,251.2" fill="none" stroke="#ff00ff" stroke-width="3" stroke-linejoin="round" stroke-linecap="round"/>
<line x1="41.6" y1="307.8" x2="41.6" y2="291.1" stroke="#333" stroke-width="1"/>
<path d="M39.800000000000004,293.0 L41.6,289.1 L43.4,293.0 Z" fill="#1a1a1a"/>
<polyline points="41.6,307.8 77.5,307.8 156.0,288.8 178.6,288.8 178.6,307.8 214.0,307.8" fill="none" stroke="#c1272d" stroke-width="2" stroke-linejoin="miter"/>
<line x1="41.1" y1="316.3" x2="218.4" y2="316.3" stroke="#444" stroke-width="1"/>
<line x1="41.6" y1="316.3" x2="41.6" y2="313.90000000000003" stroke="#444" stroke-width="1"/>
<text x="30.900000000000002" y="327.2" font-size="10" fill="#1a1a1a" stroke="#1a1a1a" stroke-width="0.1">-<tspan dx="0.9">120</tspan></text>
<line x1="78.6" y1="316.3" x2="78.6" y2="313.90000000000003" stroke="#444" stroke-width="1"/>
<text x="77.8" y="327.2" text-anchor="middle" font-size="10" fill="#1a1a1a" stroke="#1a1a1a" stroke-width="0.1">0</text>
<line x1="114.8" y1="316.3" x2="114.8" y2="313.90000000000003" stroke="#444" stroke-width="1"/>
<text x="114.8" y="327.2" text-anchor="middle" font-size="10" fill="#1a1a1a" stroke="#1a1a1a" stroke-width="0.1">120</text>
<line x1="151.4" y1="316.3" x2="151.4" y2="313.90000000000003" stroke="#444" stroke-width="1"/>
<text x="150.8" y="327.2" text-anchor="middle" font-size="10" fill="#1a1a1a" stroke="#1a1a1a" stroke-width="0.1">240</text>
<line x1="187.2" y1="316.3" x2="187.2" y2="313.90000000000003" stroke="#444" stroke-width="1"/>
<text x="186.9" y="327.2" text-anchor="middle" font-size="10" fill="#1a1a1a" stroke="#1a1a1a" stroke-width="0.1">360</text>
<text x="106.8" y="342.8" font-size="13.3" fill="#1a1a1a" stroke="#1a1a1a" stroke-width="0.15">Time (s)</text>
<line x1="93.5" y1="261" x2="93.5" y2="297.2" stroke="#111" stroke-width="1.1"/>
<path d="M90.8,294.2 L93.5,300.2 L96.2,294.2 L93.5,295.9 Z" fill="#111"/>
<text x="97.6" y="284.3" font-size="9.35" fill="#1a1a1a" stroke="#1a1a1a" stroke-width="0.12">6% BW</text>
<text x="45.8" y="225.5" font-size="9.2" fill="#1a1a1a" stroke="#1a1a1a" stroke-width="0.1">2.01 Hz</text>
<text x="45.8" y="279.7" font-size="9.2" fill="#1a1a1a" stroke="#1a1a1a" stroke-width="0.1">1.65 Hz</text>
<path transform="translate(130,240.3) scale(0.75)" d="M15.5,-9.5 C15.3,-10.5 14.1,-10.6 13.4,-9.5 L9.0,0.9 C8.5,2.0 7.5,2.3 6.4,1.9 M10.0,-6.6 H13.5" fill="none" stroke="#1a1a1a" stroke-width="1.15"/>
<text x="139" y="240.6" font-family='"Liberation Serif", serif' font-style="italic" font-size="6.2" fill="#1a1a1a">p</text>
<text x="144.4" y="239.2" font-size="9.2" fill="#1a1a1a" stroke="#1a1a1a" stroke-width="0.1">= 1.83 Hz</text>
<path d="M134.7,238.5 Q129,241 128.4,247" fill="none" stroke="#111" stroke-width="0.9"/>
<path d="M126.6,245.2 L128.4,249 L130.2,245.2 Z" fill="#111"/>
<line x1="184.2" y1="293" x2="184.2" y2="304.5" stroke="#c1272d" stroke-width="1"/>
<path d="M182.4,294.5 L184.2,291 L186,294.5 Z" fill="#c1272d"/>
<path d="M182.4,303 L184.2,306.5 L186,303 Z" fill="#c1272d"/>
<text x="190" y="302.7" font-size="9.2" fill="#c1272d" stroke="#c1272d" stroke-width="0.1">30% BW</text>
<text x="238.8" y="197.79999999999998" font-size="16.8" letter-spacing="0.5" fill="#1a1a1a" stroke="#1a1a1a" stroke-width="0.1">E)</text>
<path d="M272.20,187.00 L276.20,197.30 L267.90,197.30 Z M272.00,189.40 L268.85,196.40 L274.30,196.40 Z" fill="#1a1a1a" fill-rule="evenodd"/>
<path transform="translate(267.9,197.29999999999998)" d="M15.5,-9.5 C15.3,-10.5 14.1,-10.6 13.4,-9.5 L9.0,0.9 C8.5,2.0 7.5,2.3 6.4,1.9 M10.0,-6.6 H13.5" fill="none" stroke="#1a1a1a" stroke-width="1.05"/>
<text x="281.09999999999997" y="199.2" font-family='"Liberation Serif", serif' font-style="italic" font-size="7.6" fill="#1a1a1a">m</text>
<text x="290.90000000000003" y="196.9" font-size="14.8" fill="#1a1a1a" stroke="#1a1a1a" stroke-width="0.1">= -6%</text>
<text x="343.0" y="196" font-size="10.6" letter-spacing="0.35" fill="#1a1a1a" stroke="#1a1a1a" stroke-width="0.1">(N=8)</text>
<text transform="translate(246.8,249) rotate(-90)" text-anchor="middle" font-size="13.3" fill="#1a1a1a" stroke="#1a1a1a" stroke-width="0.15">Freq.</text>
<text transform="translate(246.8,297.5) rotate(-90)" text-anchor="middle" font-size="13.3" fill="#1a1a1a" stroke="#1a1a1a" stroke-width="0.15">Amp.</text>
<text transform="translate(265.79999999999995,267.2) rotate(-90)" font-size="10" fill="#3c3c3c">&#177;10%<tspan dx="1.2" font-family='"Liberation Serif", serif' font-style="italic" font-size="10.6">f</tspan><tspan font-family='"Liberation Serif", serif' font-style="italic" font-size="6.5" dy="1">p</tspan></text>
<polygon points="272.0,243.2 273.0,243.4 273.8,243.9 274.8,245.0 275.4,245.7 275.9,246.5 276.1,247.6 277.1,248.2 277.7,247.2 278.8,247.8 280.1,248.0 281.1,247.7 282.1,248.2 282.9,248.8 284.1,248.5 284.9,247.7 285.9,247.9 287.1,248.0 287.9,247.4 288.9,248.3 289.9,247.8 291.1,246.9 292.0,248.1 292.6,247.4 294.0,247.1 295.1,247.5 295.7,247.9 297.1,247.9 298.3,247.7 299.0,246.9 300.1,247.2 300.9,246.9 301.8,247.3 303.2,246.6 303.7,248.2 305.3,249.0 305.7,248.2 307.1,249.7 307.8,250.6 309.2,250.5 310.0,250.8 311.3,251.1 312.1,251.2 312.7,251.8 314.2,251.7 314.6,251.5 316.2,251.2 317.0,252.7 317.8,253.2 319.1,252.4 320.1,252.8 321.0,253.0 321.9,252.3 323.2,252.6 323.8,253.2 325.3,252.7 325.8,252.9 327.0,253.2 328.3,253.3 329.2,253.6 329.9,254.8 331.2,255.7 332.1,256.2 333.0,257.3 333.6,257.9 334.3,258.6 334.9,259.7 335.8,260.3 335.9,260.8 337.0,260.7 337.9,259.7 339.3,257.7 339.8,258.3 341.1,258.6 341.9,259.0 343.1,258.8 344.2,259.9 344.4,260.5 345.2,261.2 345.5,261.8 347.2,261.8 348.0,263.2 349.2,263.8 349.7,263.3 350.9,263.9 352.2,262.5 353.2,263.1 354.1,263.2 355.0,264.5 356.0,264.2 357.1,264.2 358.0,264.9 359.2,264.2 360.5,263.8 361.2,264.3 362.0,264.8 362.0,265.8 361.7,265.8 362.1,267.1 360.8,266.8 360.2,267.8 359.3,267.1 358.0,267.0 357.1,268.2 355.8,268.2 355.2,267.4 353.6,268.1 353.0,267.2 352.1,267.7 351.3,267.0 350.2,268.2 349.3,267.4 347.9,268.0 347.0,267.6 346.3,267.4 344.6,267.3 343.7,267.9 343.1,267.2 342.0,267.9 341.0,268.1 340.0,268.0 339.3,268.0 337.9,267.5 336.7,266.4 335.6,267.1 334.8,266.4 334.0,266.2 332.9,266.1 332.3,265.4 331.1,265.3 330.0,263.6 328.9,264.1 327.7,262.7 327.2,262.7 326.0,262.1 325.0,260.6 323.7,260.2 323.2,259.6 321.8,258.9 320.7,258.6 319.8,258.2 318.6,257.7 317.9,256.3 317.1,256.7 315.6,256.0 315.1,255.8 314.1,256.4 313.1,256.3 312.2,256.6 311.1,255.5 310.2,257.1 308.9,256.5 308.3,256.1 307.1,258.2 305.8,257.6 305.3,257.4 304.1,258.1 302.8,257.9 302.1,258.5 301.0,258.2 299.8,258.3 299.2,257.9 297.8,256.9 297.5,257.1 296.1,254.8 295.1,255.8 294.3,255.4 293.0,255.0 291.7,254.9 291.1,253.7 290.2,254.7 288.7,253.5 288.1,253.8 286.9,253.2 286.4,254.1 284.8,252.9 284.3,253.8 283.3,253.7 281.8,253.3 280.6,252.8 280.0,253.2 278.9,252.8 278.1,252.8 277.1,252.6 275.9,252.7 275.0,251.8 274.0,252.0" fill="#d0d0d0"/>
<polygon points="412.0,254.2 413.0,253.4 413.8,252.9 415.2,252.7 416.2,252.1 417.1,251.6 417.7,251.4 419.1,250.7 419.7,249.2 420.8,249.5 422.1,249.4 423.1,248.8 424.1,249.0 424.9,249.3 426.1,248.7 426.9,247.6 427.9,247.6 429.1,247.4 429.9,246.6 430.9,247.7 431.9,247.5 433.1,246.9 434.0,248.4 434.6,247.9 435.0,248.6 435.1,250.0 434.7,251.4 435.1,252.4 435.3,253.2 435.0,253.4 435.1,254.7 433.9,254.5 432.8,255.0 432.2,254.4 430.7,255.5 430.3,255.8 428.7,254.5 428.1,255.4 426.8,256.2 426.2,256.0 425.0,256.2 424.3,256.3 423.1,256.2 421.7,256.6 421.2,256.2 419.6,255.7 419.2,255.2 418.0,256.5 416.8,256.7 416.1,255.9 415.0,256.0" fill="#d0d0d0"/>
<path d="M271.9,221.5 H269.4 V277.2 H271.9" fill="none" stroke="#4a4a4a" stroke-width="1"/>
<line x1="272.00" y1="249.5" x2="445" y2="249.5" stroke="#333" stroke-width="1" stroke-dasharray="2.8,1.2"/>
<rect x="305.0" y="263.8" width="104.50" height="4" fill="#283a8f"/>
<polyline points="273.9,249.1 275.0,249.8 275.8,250.3 277.0,249.4 277.7,250.5 278.7,250.1 279.9,250.8 280.9,250.7 282.0,250.9 283.1,250.9 284.1,251.2 285.2,250.3 286.4,250.1 287.6,250.8 288.6,250.5 289.8,250.2 290.8,250.5 291.9,250.3 293.0,250.4 294.2,250.4 295.3,249.6 296.1,249.4 297.3,249.7 298.4,249.6 299.3,249.6 300.5,249.0 301.3,248.9 302.5,249.0 303.8,249.6 304.9,249.1 305.6,250.3 306.3,250.9 307.4,251.5 308.1,251.7 309.6,252.5 310.7,252.5 311.9,252.6 313.1,253.9 314.1,253.0 314.8,254.6 315.9,254.3 317.0,255.0 317.9,255.4 319.0,255.6 320.0,256.8 320.8,256.8 322.1,257.9 323.1,257.7 323.9,258.3 324.8,258.2 325.8,258.9 326.8,259.0 327.6,260.4 328.4,261.0 329.5,261.9 330.2,262.9 331.0,263.6 331.8,263.6 332.6,264.7 333.7,264.9 334.4,265.3 335.5,265.0 336.6,265.0 337.4,265.1 338.5,265.0 339.5,264.9 340.3,264.8 341.6,264.7 342.6,264.8 343.8,265.1 344.7,264.9 345.9,264.8 346.5,264.7 347.7,265.3 348.8,265.5 350.0,265.2 350.9,265.5 351.9,265.0 352.9,265.5 353.9,265.7 355.1,265.2 356.1,265.1 356.8,265.8 357.9,265.3 359.0,265.3 360.1,265.6 361.1,266.2 362.0,266.0 363.1,265.9 364.3,266.0 364.9,266.2 366.1,265.8 367.1,265.8 367.8,265.5 369.0,265.7 370.1,265.9 371.2,265.5 372.2,265.9 373.2,265.7 374.0,265.4 375.1,265.2 376.2,265.4 377.3,264.9 378.5,265.8 379.3,265.6 380.3,265.5 381.2,266.3 382.3,265.3 383.3,265.5 384.4,266.2 385.3,265.6 386.4,265.1 387.3,265.9 388.4,265.6 389.5,265.9 390.5,265.8 391.3,265.7 392.4,265.4 393.4,265.7 394.4,264.9 395.4,265.5 396.4,265.2 397.6,265.7 398.3,265.2 399.8,265.6 400.7,265.1 401.9,265.1 403.0,265.4 403.9,265.5 404.9,265.1 406.1,264.5 407.0,263.8 408.2,263.2 408.9,261.5 409.6,260.6 410.2,259.5 410.7,259.3 411.5,257.8 412.3,257.3 412.6,257.2 413.8,255.8 414.7,255.5 416.0,254.6 416.9,253.3 417.8,253.6 418.9,253.7 419.8,252.7 420.9,253.0 422.0,252.5 422.9,252.7 424.3,252.6 425.5,251.7 426.8,251.8 427.5,250.9 428.4,250.5 429.7,250.6 430.4,249.7 431.4,251.5 432.1,251.4 432.9,252.7 433.8,252.9" fill="none" stroke="#ff00ff" stroke-width="3" stroke-linejoin="round" stroke-linecap="round"/>
<line x1="269.4" y1="306.6" x2="269.4" y2="290.4" stroke="#333" stroke-width="1"/>
<path d="M267.59999999999997,292.29999999999995 L269.4,288.4 L271.2,292.29999999999995 Z" fill="#1a1a1a"/>
<polyline points="269.4,306.6 303.6,306.6 384.1,287.8 406.0,287.8 406.0,306.6 441.2,306.6" fill="none" stroke="#c1272d" stroke-width="2" stroke-linejoin="miter"/>
<line x1="268.9" y1="317.0" x2="445.4" y2="317.0" stroke="#444" stroke-width="1"/>
<line x1="269.4" y1="317.0" x2="269.4" y2="314.6" stroke="#444" stroke-width="1"/>
<text x="258.8" y="328.0" font-size="10" fill="#1a1a1a" stroke="#1a1a1a" stroke-width="0.1">-<tspan dx="0.9">120</tspan></text>
<line x1="305.2" y1="317.0" x2="305.2" y2="314.6" stroke="#444" stroke-width="1"/>
<text x="305.2" y="328.0" text-anchor="middle" font-size="10" fill="#1a1a1a" stroke="#1a1a1a" stroke-width="0.1">0</text>
<line x1="340.9" y1="317.0" x2="340.9" y2="314.6" stroke="#444" stroke-width="1"/>
<text x="340.8" y="328.0" text-anchor="middle" font-size="10" fill="#1a1a1a" stroke="#1a1a1a" stroke-width="0.1">120</text>
<line x1="376.4" y1="317.0" x2="376.4" y2="314.6" stroke="#444" stroke-width="1"/>
<text x="375.7" y="328.0" text-anchor="middle" font-size="10" fill="#1a1a1a" stroke="#1a1a1a" stroke-width="0.1">240</text>
<line x1="412.2" y1="317.0" x2="412.2" y2="314.6" stroke="#444" stroke-width="1"/>
<text x="411.9" y="328.0" text-anchor="middle" font-size="10" fill="#1a1a1a" stroke="#1a1a1a" stroke-width="0.1">360</text>
<text x="333.8" y="344.8" font-size="13.3" fill="#1a1a1a" stroke="#1a1a1a" stroke-width="0.15">Time (s)</text>
<line x1="331.2" y1="267" x2="331.2" y2="294.8" stroke="#111" stroke-width="1.1"/>
<path d="M328.5,291.8 L331.2,297.8 L333.9,291.8 L331.2,293.5 Z" fill="#111"/>
<text x="334.6" y="284" font-size="9.35" fill="#1a1a1a" stroke="#1a1a1a" stroke-width="0.12">10% BW</text>
<text x="388.8" y="221.6" font-size="9.2" fill="#cc2ecc" stroke="#cc2ecc" stroke-width="0.1">median step</text>
<text x="389.3" y="232.4" font-size="9.2" fill="#cc2ecc" stroke="#cc2ecc" stroke-width="0.1">frequency, <tspan font-family='"Liberation Serif", serif' font-style="italic">f</tspan><tspan font-family='"Liberation Serif", serif' font-style="italic" font-size="6" dy="1">s</tspan></text>
<path d="M398.2,236 C395,244 397,253 404,257.5" fill="none" stroke="#111" stroke-width="0.9"/>
<path d="M401.8,259 L406,259.8 L404.2,255.9 Z" fill="#111"/>
<text x="465.8" y="198.20000000000002" font-size="16.8" letter-spacing="0.5" fill="#1a1a1a" stroke="#1a1a1a" stroke-width="0.1">F)</text>
<path d="M499.70,186.70 L503.70,197.00 L495.40,197.00 Z M499.50,189.10 L496.35,196.10 L501.80,196.10 Z" fill="#1a1a1a" fill-rule="evenodd"/>
<path transform="translate(495.4,197.0)" d="M15.5,-9.5 C15.3,-10.5 14.1,-10.6 13.4,-9.5 L9.0,0.9 C8.5,2.0 7.5,2.3 6.4,1.9 M10.0,-6.6 H13.5" fill="none" stroke="#1a1a1a" stroke-width="1.05"/>
<text x="508.59999999999997" y="198.9" font-family='"Liberation Serif", serif' font-style="italic" font-size="7.6" fill="#1a1a1a">m</text>
<text x="518.4" y="196.60000000000002" font-size="14.8" fill="#1a1a1a" stroke="#1a1a1a" stroke-width="0.1">= -9%</text>
<text x="570.5" y="196" font-size="10.6" letter-spacing="0.35" fill="#1a1a1a" stroke="#1a1a1a" stroke-width="0.1">(N=8)</text>
<text transform="translate(474.4,250) rotate(-90)" text-anchor="middle" font-size="13.3" fill="#1a1a1a" stroke="#1a1a1a" stroke-width="0.15">Freq.</text>
<text transform="translate(474.4,299.3) rotate(-90)" text-anchor="middle" font-size="13.3" fill="#1a1a1a" stroke="#1a1a1a" stroke-width="0.15">Amp.</text>
<text transform="translate(493.0,268.2) rotate(-90)" font-size="10" fill="#3c3c3c">&#177;10%<tspan dx="1.2" font-family='"Liberation Serif", serif' font-style="italic" font-size="10.6">f</tspan><tspan font-family='"Liberation Serif", serif' font-style="italic" font-size="6.5" dy="1">p</tspan></text>
<polygon points="499.0,243.2 500.3,242.4 501.4,241.9 502.4,243.0 502.9,243.8 503.4,244.6 503.6,245.7 504.5,246.4 504.7,246.2 505.8,246.9 507.1,247.2 508.1,247.0 509.1,247.6 509.9,248.3 511.1,248.1 511.9,247.4 512.9,247.8 514.1,248.0 514.9,247.6 515.9,248.4 516.9,247.9 518.1,247.0 519.0,248.2 519.6,247.4 521.0,247.0 522.1,247.3 522.7,247.6 524.1,247.5 525.3,247.2 526.0,246.4 527.1,246.7 527.9,246.4 528.8,246.8 530.2,246.1 530.7,247.1 532.3,247.3 532.7,245.9 534.1,246.7 534.8,247.4 536.2,247.5 537.0,248.0 538.3,248.5 539.1,248.8 539.7,249.6 541.2,249.4 541.6,249.1 543.2,248.8 544.0,250.3 544.8,250.7 545.9,250.6 546.7,251.6 547.5,252.5 548.2,252.5 549.4,253.3 549.8,254.4 551.1,254.5 551.4,255.3 552.5,255.9 553.6,256.2 554.4,256.8 554.9,258.3 556.2,259.0 557.1,259.3 558.0,260.1 559.0,260.5 560.1,261.0 561.1,261.5 562.4,261.5 562.9,261.4 564.0,262.2 564.9,262.2 566.3,260.6 566.8,261.7 568.1,261.5 568.9,261.5 570.1,260.8 571.4,260.8 571.9,260.2 573.0,259.8 573.5,259.2 575.2,258.5 576.0,259.0 577.2,258.9 577.7,257.6 578.9,257.7 580.2,255.8 581.2,256.2 582.1,256.1 583.0,257.2 584.0,256.6 585.1,256.5 586.0,256.9 587.3,256.0 588.7,255.5 589.4,255.7 590.3,256.0 591.3,256.5 592.0,256.0 593.3,256.8 594.0,257.0 595.0,259.0 595.6,259.2 595.9,260.0 596.6,262.2 596.8,263.1 597.7,263.3 597.7,264.9 598.7,265.0 599.3,266.4 600.1,266.7 600.6,268.7 601.2,268.9 601.4,270.4 602.1,271.0 602.8,271.8 602.6,272.8 603.1,274.4 602.4,273.8 601.3,274.5 600.3,274.8 599.3,274.7 598.5,275.0 597.1,274.8 595.9,273.9 594.8,275.0 594.0,274.6 593.1,274.6 592.0,274.8 591.4,274.8 590.2,275.3 589.0,274.3 587.9,275.4 586.7,274.7 586.2,275.1 585.0,274.8 584.0,273.6 582.7,273.6 582.2,273.3 580.8,272.9 579.7,272.9 578.8,273.3 577.6,273.3 576.9,272.4 576.1,273.3 574.6,273.1 574.1,273.4 573.1,274.0 572.1,273.9 571.2,274.2 570.1,273.1 569.2,274.4 567.9,273.4 567.3,272.6 566.1,274.3 564.8,273.3 564.3,272.5 563.1,272.5 561.8,271.7 561.1,271.7 560.0,270.8 558.8,270.3 558.2,270.0 557.2,268.6 557.3,268.5 556.3,265.8 555.7,266.2 555.3,265.2 554.2,264.5 553.2,264.0 552.8,262.4 552.2,262.8 550.9,260.9 550.5,260.5 549.5,259.2 549.2,259.3 547.8,257.4 547.3,257.8 546.3,257.0 544.8,256.1 543.6,255.3 543.0,255.4 541.9,254.7 541.1,254.6 540.1,254.1 538.9,254.3 538.0,253.4 536.9,253.7 536.0,253.7 535.0,253.6 534.0,252.8 533.1,253.8 532.1,253.1 531.1,252.7 529.7,253.0 528.8,253.4 527.8,252.0 526.8,254.0 525.9,252.8 524.9,253.7 524.1,253.7 523.3,254.0 522.0,254.1 521.3,254.3 520.2,253.5 519.0,254.1 517.9,254.1 517.1,253.8 516.0,254.3 515.2,252.9 514.0,254.0 512.9,253.0 512.2,252.4 510.8,252.3 510.1,252.5 509.1,251.7 508.2,251.7 507.0,251.2 506.0,251.2 504.8,250.3 504.0,249.6 503.0,250.0" fill="#d0d0d0"/>
<polygon points="638.0,260.2 638.2,258.9 638.3,257.9 639.0,257.2 639.2,256.1 639.3,255.1 639.2,254.4 639.8,253.2 639.7,251.2 640.8,251.4 642.1,251.2 643.1,250.5 644.1,250.6 644.9,250.8 646.1,250.7 646.9,250.1 647.9,250.6 649.1,250.9 649.9,250.6 650.9,251.7 651.9,251.5 653.1,250.9 654.0,252.4 654.6,251.9 656.0,251.8 657.1,252.4 657.7,253.0 659.1,253.2 660.3,253.2 661.0,252.5 662.1,253.0 662.9,252.8 663.8,253.3 665.2,252.7 665.7,253.9 667.3,254.1 667.7,252.9 668.1,254.7 667.8,256.4 668.2,257.1 668.0,258.2 668.3,259.3 668.1,260.2 666.7,260.6 666.2,260.2 664.6,259.7 664.2,259.2 663.0,260.5 661.8,260.7 661.1,259.9 660.1,260.3 659.0,260.6 657.9,260.0 657.2,260.3 655.8,260.8 655.3,260.3 653.8,260.5 653.0,260.6 652.3,260.3 651.2,260.3 649.9,261.3 649.2,261.6 648.1,261.5 647.0,261.9 646.0,261.9 645.1,262.0 644.1,262.9 643.4,263.3 641.9,263.6 641.0,264.8 640.0,265.0" fill="#d0d0d0"/>
<path d="M498.9,222.4 H496.6 V278.2 H498.9" fill="none" stroke="#4a4a4a" stroke-width="1"/>
<line x1="499.70" y1="250.5" x2="673.7" y2="250.5" stroke="#333" stroke-width="1" stroke-dasharray="2.8,1.2"/>
<rect x="532.0" y="273.4" width="105.60" height="4" fill="#283a8f"/>
<polyline points="501.0,245.8 501.7,246.6 502.8,247.2 503.5,247.5 504.9,248.2 506.1,249.4 507.4,249.1 508.4,249.2 509.4,248.5 510.7,249.0 511.7,249.4 512.6,250.0 514.1,250.6 515.2,250.3 516.3,251.6 517.3,251.5 518.4,250.5 519.6,250.1 520.7,250.3 521.9,250.3 522.7,250.3 524.0,249.3 525.0,249.6 525.9,249.5 527.1,250.5 528.0,249.7 529.1,250.1 530.2,250.5 531.3,250.3 532.3,250.7 533.5,251.2 534.4,250.8 535.3,250.8 536.5,250.9 537.5,251.3 538.4,251.5 539.8,252.4 540.4,252.3 541.7,252.7 543.0,252.5 544.2,252.9 545.3,253.2 546.0,253.4 547.5,254.3 548.6,255.0 549.5,255.8 550.7,256.0 551.6,255.6 552.7,256.2 553.5,257.4 554.2,258.2 554.6,259.7 555.3,260.9 555.5,261.5 555.9,262.4 556.3,263.2 556.9,264.2 557.5,264.8 558.2,265.6 558.4,267.0 559.4,267.4 560.5,268.4 561.5,269.0 562.4,269.5 563.8,269.9 565.1,269.7 566.5,269.4 567.5,269.1 568.5,268.7 569.9,268.0 571.2,267.6 572.4,268.7 573.1,268.8 574.4,268.8 575.8,269.1 577.2,269.6 578.6,269.9 579.9,269.9 581.1,270.3 582.1,271.0 583.5,271.9 584.4,272.1 585.4,272.5 586.7,273.0 587.9,274.1 588.9,274.4 590.0,274.1 590.9,273.7 591.9,273.5 592.9,273.1 593.9,273.3 594.6,273.8 595.7,274.7 596.8,274.6 597.8,274.5 598.7,273.8 599.7,273.7 600.7,273.3 601.7,274.1 602.8,274.5 603.7,274.9 604.9,275.7 605.5,276.1 606.8,276.1 607.8,275.1 608.5,275.8 610.0,275.6 610.8,276.1 611.8,275.5 612.8,276.2 613.8,276.2 615.0,276.5 615.8,275.8 617.0,275.9 617.9,275.9 619.0,276.1 620.1,276.4 621.2,276.1 622.1,276.1 623.2,275.9 624.1,276.3 624.9,275.9 626.0,276.1 627.0,276.9 628.0,276.3 629.0,275.7 630.1,276.2 630.9,276.1 632.0,275.5 633.0,273.2 633.5,272.7 634.2,271.8 634.5,270.3 634.7,269.8 635.6,268.7 635.8,267.5 636.6,266.3 636.7,265.8 637.6,264.8 638.1,263.2 639.0,262.4 639.8,261.6 640.7,260.3 641.5,260.3 642.0,259.6 642.9,258.4 643.3,257.9 644.1,256.7 644.9,255.9 645.8,256.0 646.9,256.4 648.1,256.2 649.4,257.2 650.7,256.6 651.9,257.2 652.9,257.4 654.2,257.7 655.0,258.2 656.0,258.6 657.1,257.6 658.0,257.2 658.7,256.2 659.8,255.4 661.1,255.4 662.2,255.7 663.7,255.5 665.0,255.1 666.0,255.5 667.3,256.5 668.4,256.4" fill="none" stroke="#ff00ff" stroke-width="3" stroke-linejoin="round" stroke-linecap="round"/>
<line x1="496.6" y1="309.0" x2="496.6" y2="292" stroke="#333" stroke-width="1"/>
<path d="M494.8,293.9 L496.6,290 L498.40000000000003,293.9 Z" fill="#1a1a1a"/>
<polyline points="496.6,309.0 530.2,309.0 611.5,290.0 634.9,290.0 634.9,309.0 669.0,309.0" fill="none" stroke="#c1272d" stroke-width="2" stroke-linejoin="miter"/>
<line x1="496.1" y1="316.9" x2="672.6" y2="316.9" stroke="#444" stroke-width="1"/>
<line x1="496.6" y1="316.9" x2="496.6" y2="314.5" stroke="#444" stroke-width="1"/>
<text x="485.40000000000003" y="327.5" font-size="10" fill="#1a1a1a" stroke="#1a1a1a" stroke-width="0.1">-<tspan dx="0.9">120</tspan></text>
<line x1="532.1" y1="316.9" x2="532.1" y2="314.5" stroke="#444" stroke-width="1"/>
<text x="532.0" y="327.5" text-anchor="middle" font-size="10" fill="#1a1a1a" stroke="#1a1a1a" stroke-width="0.1">0</text>
<line x1="567.2" y1="316.9" x2="567.2" y2="314.5" stroke="#444" stroke-width="1"/>
<text x="566.5" y="327.5" text-anchor="middle" font-size="10" fill="#1a1a1a" stroke="#1a1a1a" stroke-width="0.1">120</text>
<line x1="602.4" y1="316.9" x2="602.4" y2="314.5" stroke="#444" stroke-width="1"/>
<text x="601.6" y="327.5" text-anchor="middle" font-size="10" fill="#1a1a1a" stroke="#1a1a1a" stroke-width="0.1">240</text>
<line x1="637.6" y1="316.9" x2="637.6" y2="314.5" stroke="#444" stroke-width="1"/>
<text x="636.7" y="327.5" text-anchor="middle" font-size="10" fill="#1a1a1a" stroke="#1a1a1a" stroke-width="0.1">360</text>
<line x1="672.6" y1="316.9" x2="672.6" y2="314.5" stroke="#444" stroke-width="1"/>
<text x="671.0" y="327.5" text-anchor="middle" font-size="10" fill="#1a1a1a" stroke="#1a1a1a" stroke-width="0.1">480</text>
<text x="561.3" y="343.5" font-size="13.3" fill="#1a1a1a" stroke="#1a1a1a" stroke-width="0.15">Time (s)</text>
<line x1="580.7" y1="272" x2="580.7" y2="290.4" stroke="#111" stroke-width="1.1"/>
<path d="M578.0,287.4 L580.7,293.4 L583.4000000000001,287.4 L580.7,289.09999999999997 Z" fill="#111"/>
<text x="539.6" y="292.4" font-size="9.35" fill="#1a1a1a" stroke="#1a1a1a" stroke-width="0.12">18% BW</text>
<text x="585.8" y="236.4" font-size="9.2" fill="#1a1a1a" stroke="#1a1a1a" stroke-width="0.1">25-75% quartiles</text>
<path d="M616.5,240 C616,248 606,254 597,256.3" fill="none" stroke="#111" stroke-width="0.9"/>
<path d="M598.2,254.3 L594,256.9 L598.8,258.3 Z" fill="#111"/>
</svg>
</body></html>
